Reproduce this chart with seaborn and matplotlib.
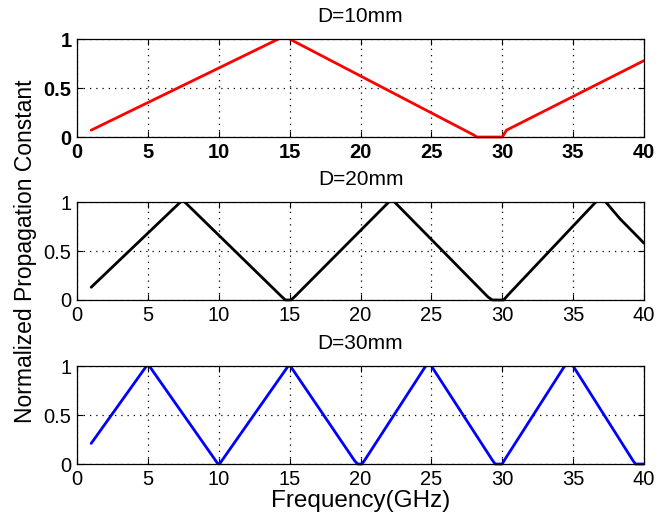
import matplotlib
matplotlib.use("Agg")
import matplotlib.pyplot as plt
from matplotlib.patches import Rectangle
import seaborn as sns
import pandas as pd

# Breakpoints of the normalized propagation constant vs frequency (GHz)
freq_10 = [1.0, 14.2, 14.6, 15.0, 28.0, 28.2, 30.0, 30.3, 40.0]
beta_10 = [0.07, 1.0, 1.03, 1.0, 0.02, 0.0, 0.0, 0.07, 0.78]

freq_20 = [1.0, 7.3, 7.45, 7.6, 14.4, 14.7, 15.1, 15.4, 22.0, 22.2, 22.4,
           29.0, 29.3, 30.1, 30.4, 36.6, 36.95, 37.3, 38.3, 40.0]
beta_20 = [0.13, 1.0, 1.01, 1.0, 0.04, 0.0, 0.0, 0.04, 1.0, 1.02, 1.0,
           0.03, 0.0, 0.0, 0.05, 1.0, 1.04, 1.0, 0.83, 0.58]

freq_30 = [1.0, 4.9, 5.1, 9.9, 10.0, 10.1, 14.9, 15.05, 19.6, 19.8, 20.1,
           20.3, 24.6, 24.8, 25.0, 29.3, 29.5, 30.0, 30.2, 34.4, 34.7,
           35.0, 39.2, 39.4, 40.0]
beta_30 = [0.21, 1.0, 1.0, 0.01, 0.0, 0.01, 1.0, 1.0, 0.03, 0.0, 0.0,
           0.04, 1.0, 1.03, 1.0, 0.04, 0.0, 0.0, 0.05, 1.0, 1.03,
           1.0, 0.04, 0.0, 0.0]

titles = ["D=10mm", "D=20mm", "D=30mm"]
colors = ["#ff0000", "#000000", "#0000ff"]
x_ticks = [0, 5, 10, 15, 20, 25, 30, 35, 40]
y_ticks = [0, 0.5, 1]
y_tick_labels = ["0", "0.5", "1"]

sns.set_style("white")
plt.rcParams["font.family"] = ["Liberation Sans", "DejaVu Sans"]
plt.rcParams["text.color"] = "black"
plt.rcParams["axes.labelcolor"] = "black"

fig = plt.figure(figsize=(6.56, 5.22), dpi=100)
left, width, height = 0.1174, 0.8643, 0.1877
bottoms = [0.7375, 0.4253, 0.1111]

series = [(freq_10, beta_10), (freq_20, beta_20), (freq_30, beta_30)]
axes = []
for i, ((fx, fy), title, color, b) in enumerate(zip(series, titles, colors, bottoms)):
    ax = fig.add_axes([left, b, width, height])
    df = pd.DataFrame({"Frequency": fx, "Beta": fy})
    sns.lineplot(data=df, x="Frequency", y="Beta", ax=ax, color=color,
                 linewidth=2.0, sort=False, estimator=None)
    ax.set_xlim(0, 40)
    ax.set_ylim(0, 1)
    # let the trace sit fully visible on the zero line, but cut it at the top
    clip = Rectangle((0, -0.04), 40, 1.04, transform=ax.transData)
    for ln in ax.lines:
        ln.set_clip_path(clip)
        ln.set_solid_joinstyle("round")
    ax.set_xticks(x_ticks)
    ax.set_yticks(y_ticks)
    ax.set_yticklabels(y_tick_labels)
    ax.set_xlabel("")
    ax.set_ylabel("")
    ax.grid(True, color="black", linestyle=(0, (1, 4)), linewidth=0.9)
    ax.set_axisbelow(True)
    for sp in ax.spines.values():
        sp.set_visible(True)
        sp.set_color("black")
        sp.set_linewidth(0.9)
    ax.tick_params(direction="in", length=4, width=0.8, colors="black",
                   top=True, right=True, bottom=True, left=True,
                   labelsize=14.5, pad=4)
    if i == 0:
        for lab in ax.get_xticklabels() + ax.get_yticklabels():
            lab.set_fontweight("bold")
    ax.set_title(title, fontsize=15, pad=12, color="black")
    axes.append(ax)

axes[1].set_ylabel("Normalized Propagation Constant", fontsize=16.5,
                   labelpad=5, color="black")
axes[2].set_xlabel("Frequency(GHz)", fontsize=17.5, labelpad=1, color="black")

fig.savefig("out.png", dpi=100)
